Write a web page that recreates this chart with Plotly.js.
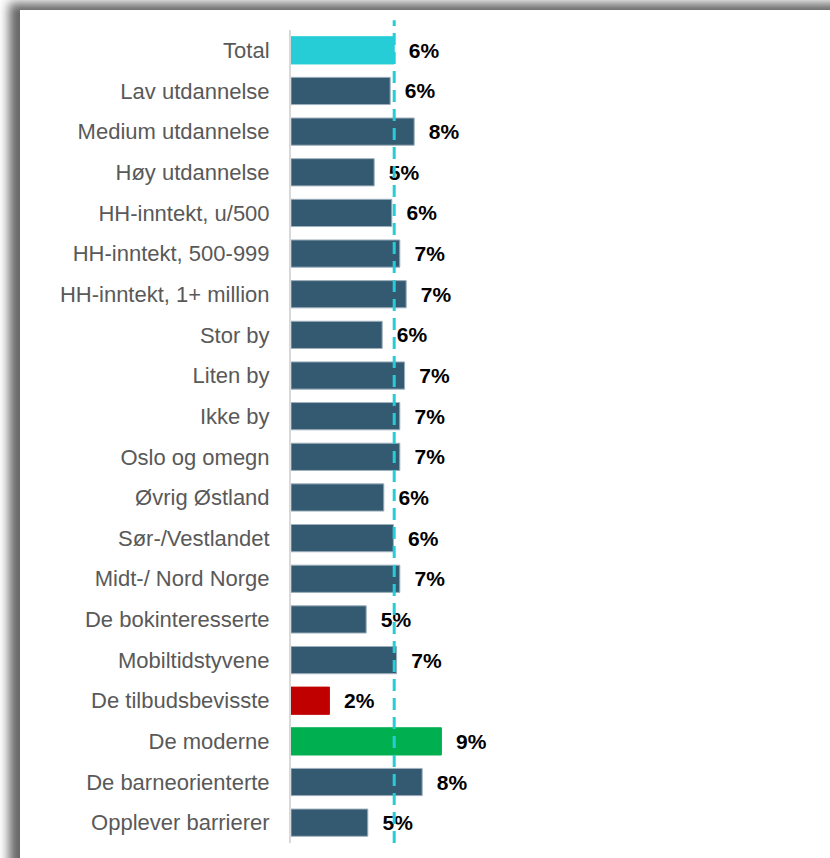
<!DOCTYPE html>
<html>
<head>
<meta charset="utf-8">
<script src="https://cdn.plot.ly/plotly-3.0.1.min.js"></script>
<style>
  html, body { margin:0; padding:0; width:830px; height:858px; overflow:hidden; background:#ffffff; }
  #panel { position:absolute; left:20px; top:10px; width:840px; height:870px; background:#ffffff;
           box-shadow: -7px -3px 10px 4px rgba(0,0,0,0.6); }
  #chart { position:absolute; left:0; top:0; width:830px; height:858px; }
</style>
</head>
<body>
<div id="panel"></div>
<div id="chart"></div>
<script>
const categories = [
  "Total", "Lav utdannelse", "Medium utdannelse", "Høy utdannelse",
  "HH-inntekt, u/500", "HH-inntekt, 500-999", "HH-inntekt, 1+ million",
  "Stor by", "Liten by", "Ikke by", "Oslo og omegn", "Øvrig Østland",
  "Sør-/Vestlandet", "Midt-/ Nord Norge", "De bokinteresserte",
  "Mobiltidstyvene", "De tilbudsbevisste", "De moderne",
  "De barneorienterte", "Opplever barrierer"
];
const values = [6.45, 6.2, 7.7, 5.2, 6.3, 6.8, 7.2, 5.7, 7.1, 6.8, 6.8, 5.8,
                6.4, 6.8, 4.7, 6.6, 2.4, 9.4, 8.2, 4.8];
const barColors = ["#26CDD7", "#345A71", "#345A71", "#345A71", "#345A71", "#345A71",
                   "#345A71", "#345A71", "#345A71", "#345A71", "#345A71", "#345A71",
                   "#345A71", "#345A71", "#345A71", "#345A71", "#C00000", "#00B050",
                   "#345A71", "#345A71"];
const totalValue = values[0];

const lineColors = barColors.map(c => c === "#345A71" ? "#9fb0bd" : c);

const trace = {
  type: "bar",
  orientation: "h",
  y: categories,
  x: values,
  marker: { color: barColors, line: { color: lineColors, width: 1 } },
  texttemplate: "\u00a0\u00a0%{x:.0f}%",
  textposition: "outside",
  cliponaxis: false,
  textfont: { family: "Liberation Sans, Arial, sans-serif", size: 21, color: "#000000", weight: "bold" },
  hoverinfo: "none"
};

const layout = {
  width: 830, height: 858,
  margin: { l: 291, r: 59, t: 30, b: 15 },
  paper_bgcolor: "rgba(0,0,0,0)",
  plot_bgcolor: "rgba(0,0,0,0)",
  showlegend: false,
  bargap: 0.33,
  xaxis: { range: [0, 30], showgrid: false, zeroline: false, showticklabels: false, ticks: "", showline: false, fixedrange: true },
  yaxis: {
    autorange: "reversed",
    showgrid: false, zeroline: false, ticks: "",
    showline: true, linecolor: "#d9d9d9", linewidth: 2,
    ticklabelstandoff: 15,
    tickfont: { family: "Liberation Sans, Arial, sans-serif", size: 22, color: "#595959" },
    fixedrange: true
  },
  shapes: [{
    type: "line", xref: "x", yref: "paper",
    x0: totalValue, x1: totalValue, y0: 0, y1: 1.012,
    line: { color: "#26CDD7", width: 3, dash: "12px,7px" },
    layer: "above"
  }]
};

Plotly.newPlot("chart", [trace], layout, { displayModeBar: false, staticPlot: true });
</script>
</body>
</html>
